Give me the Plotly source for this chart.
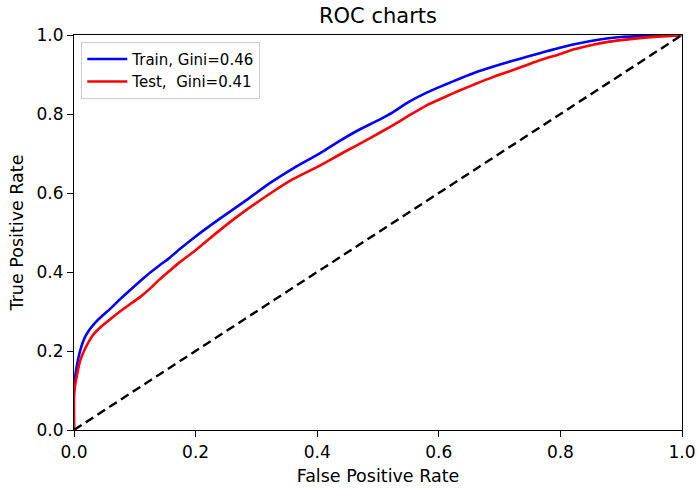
import plotly.graph_objects as go

train_fpr = [0, 0, 0.002, 0.005, 0.01, 0.018, 0.026, 0.035, 0.047, 0.059, 0.075, 0.092, 0.12, 0.14, 0.158,
             0.174, 0.2, 0.24, 0.28, 0.322, 0.36, 0.405, 0.435, 0.465, 0.50, 0.525, 0.55, 0.58, 0.61, 0.635,
             0.66, 0.69, 0.72, 0.745, 0.766, 0.788, 0.821, 0.85, 0.876, 0.9, 0.93, 0.96, 1.0]
train_tpr = [0, 0.10, 0.135, 0.165, 0.20, 0.235, 0.255, 0.272, 0.29, 0.306, 0.33, 0.354, 0.392, 0.416, 0.437,
             0.458, 0.49, 0.535, 0.578, 0.625, 0.662, 0.701, 0.73, 0.757, 0.784, 0.805, 0.83, 0.854, 0.874,
             0.89, 0.905, 0.92, 0.934, 0.945, 0.954, 0.963, 0.976, 0.985, 0.991, 0.995, 0.997, 0.999, 1.0]

test_fpr = [0, 0, 0.002, 0.005, 0.01, 0.018, 0.031, 0.045, 0.059, 0.08, 0.109, 0.125, 0.14, 0.158, 0.174,
            0.2, 0.24, 0.27, 0.322, 0.36, 0.405, 0.44, 0.487, 0.525, 0.55, 0.58, 0.61, 0.635, 0.66, 0.69,
            0.72, 0.745, 0.766, 0.8, 0.821, 0.85, 0.876, 0.9, 0.93, 0.96, 0.986, 1.0]
test_tpr = [0, 0.09, 0.115, 0.14, 0.175, 0.205, 0.24, 0.262, 0.28, 0.305, 0.337, 0.358, 0.38, 0.404, 0.425,
            0.455, 0.506, 0.542, 0.598, 0.635, 0.67, 0.70, 0.739, 0.772, 0.795, 0.822, 0.843, 0.86, 0.876,
            0.894, 0.91, 0.924, 0.936, 0.952, 0.963, 0.974, 0.982, 0.987, 0.992, 0.996, 0.998, 1.0]

diag = [0, 1]
tick_vals = [0.0, 0.2, 0.4, 0.6, 0.8, 1.0]
tick_text = ["0.0", "0.2", "0.4", "0.6", "0.8", "1.0"]

font = "DejaVu Sans"

fig = go.Figure()
fig.add_trace(go.Scatter(x=train_fpr, y=train_tpr, mode="lines", name="Train, Gini=0.46",
                         line=dict(color="#0000ff", width=2.6, shape="spline", smoothing=0.6)))
fig.add_trace(go.Scatter(x=test_fpr, y=test_tpr, mode="lines", name="Test,  Gini=0.41",
                         line=dict(color="#ff0000", width=2.6, shape="spline", smoothing=0.6)))
fig.add_trace(go.Scatter(x=diag, y=diag, mode="lines", showlegend=False,
                         line=dict(color="black", width=2.4, dash="9px,5px")))

axis_common = dict(range=[0, 1], showgrid=False, zeroline=False, showline=True, linecolor="black",
                   linewidth=1.2, mirror=True, ticks="outside", ticklen=6, tickwidth=1.2,
                   tickcolor="black", tickvals=tick_vals, ticktext=tick_text, automargin=False,
                   tickfont=dict(family=font, size=17, color="black"))

fig.update_layout(
    width=698, height=488,
    margin=dict(l=74, r=16, t=35, b=58, autoexpand=False),
    paper_bgcolor="white", plot_bgcolor="white",
    title=dict(text="ROC charts", x=0.5, xanchor="center", xref="paper", y=0.984, yanchor="top",
               font=dict(family=font, size=21, color="black")),
    xaxis=dict(axis_common, title=dict(text="False Positive Rate", standoff=9,
                                       font=dict(family=font, size=17.5, color="black"))),
    yaxis=dict(axis_common, title=dict(text="True Positive Rate", standoff=8,
                                       font=dict(family=font, size=17.5, color="black"))),
    legend=dict(x=0.012, y=0.983, xanchor="left", yanchor="top", bgcolor="rgba(255,255,255,0.8)",
                bordercolor="#cccccc", borderwidth=1, font=dict(family=font, size=15, color="black"),
                itemwidth=40, tracegroupgap=0),
    showlegend=True,
)

fig.write_html("out.html")
